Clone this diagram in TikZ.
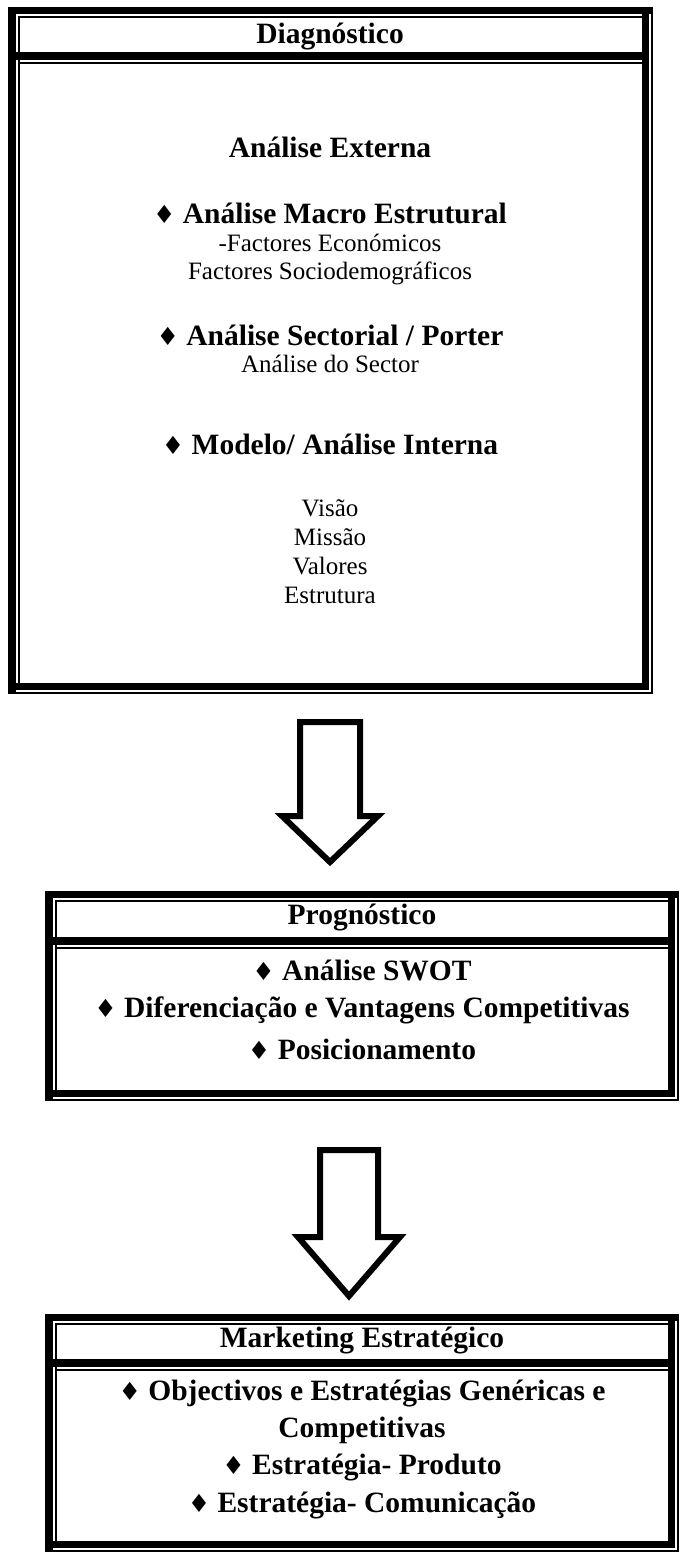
\documentclass[tikz,border=0pt]{standalone}
\usepackage{fontspec}
\setmainfont{Liberation Serif}
\newfontfamily\symfont{DejaVu Sans}
\newcommand\dia{{\symfont\fontsize{25}{28}\selectfont ♦}\ }

% table frame with thick-thin rules: box (x0,y0)-(x1,y1), header rule at yd
\newcommand\tabframe[5]{%
  \fill (#1,#2) rectangle (#3,#2+7);
  \fill (#1,#2) rectangle (#1+8,#4);
  \fill (#1+10,#2+9) rectangle (#3-11,#2+11);
  \fill (#1+10,#2+9) rectangle (#1+12,#4-11);
  \fill (#3-11,#2+7) rectangle (#3-4,#4-4);
  \fill (#3-2,#2+7) rectangle (#3,#4);
  \fill (#1+8,#4-11) rectangle (#3-4,#4-4);
  \fill (#1,#4-2) rectangle (#3,#4);
  \fill (#1+8,#5) rectangle (#3-11,#5+8);
  \fill (#1+10,#5+10) rectangle (#3-11,#5+12);
}

\begin{document}
\begin{tikzpicture}[x=1pt,y=-1pt,
  head/.style={font=\fontsize{29.5}{34}\selectfont\bfseries, inner sep=0pt},
  item/.style={font=\fontsize{29.5}{34}\selectfont\bfseries, inner sep=0pt},
  sub/.style={font=\fontsize{25}{29}\selectfont, inner sep=0pt},
  blockarrow/.style={draw, line width=6pt, fill=white, line join=miter}]
\useasboundingbox (0,0) rectangle (680,1555);

% Diagnóstico
\tabframe{8}{7}{653}{694}{52}
\node[head] (diag) at (330,37) {Diagnóstico};
\node[item] (ext) at (330,147) {Análise Externa};
\node[item] (macro) at (330,213) {\dia Análise Macro Estrutural};
\node[sub] (econ) at (330,243) {-Factores Económicos};
\node[sub] (socio) at (330,273) {Factores Sociodemográficos};
\node[item] (sect) at (330,335) {\dia Análise Sectorial / Porter};
\node[sub] (sector) at (330,364) {Análise do Sector};
\node[item] (interna) at (330,444) {\dia Modelo/ Análise Interna};
\node[sub] (visao) at (330,508) {Visão};
\node[sub] (missao) at (330,537) {Missão};
\node[sub] (valores) at (330,566) {Valores};
\node[sub] (estr) at (330,595) {Estrutura};

% arrow to Prognóstico
\draw[blockarrow] (300,722) -- (360,722) -- (360,816) -- (378,816)
  -- (330,862) -- (282,816) -- (300,816) -- cycle;

% Prognóstico
\tabframe{45}{891}{679}{1101}{937}
\node[head] (prog) at (362,917) {Prognóstico};
\node[item] (swot) at (362,970) {\dia Análise SWOT};
\node[item] (dif) at (362,1010) {\dia Diferenciação e Vantagens Competitivas};
\node[item] (pos) at (362,1049) {\dia Posicionamento};

% arrow to Marketing Estratégico
\draw[blockarrow] (320,1150) -- (378,1150) -- (378,1237) -- (400,1237)
  -- (349,1296) -- (298,1237) -- (320,1237) -- cycle;

% Marketing Estratégico
\tabframe{45}{1314}{679}{1552}{1359}
\node[head] (mkt) at (362,1340) {Marketing Estratégico};
\node[item] (obj) at (362,1393) {\dia Objectivos e Estratégias Genéricas e};
\node[item] (comp) at (362,1430) {Competitivas};
\node[item] (prod) at (362,1467) {\dia Estratégia- Produto};
\node[item] (com) at (362,1505) {\dia Estratégia- Comunicação};
\end{tikzpicture}
\end{document}
